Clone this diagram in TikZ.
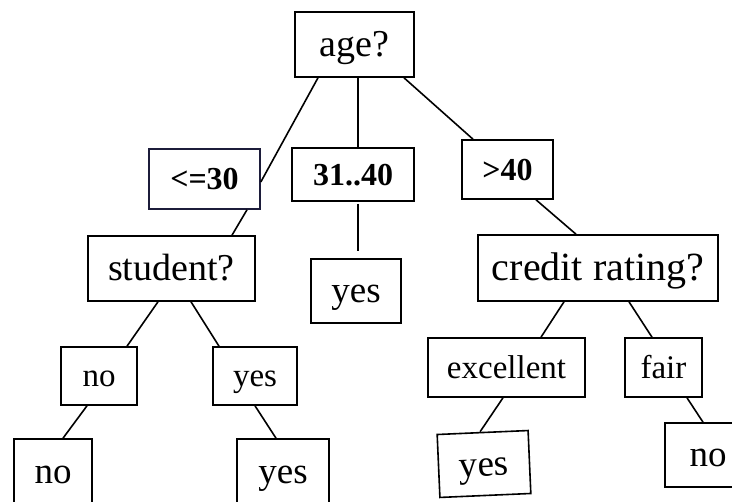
\documentclass[tikz,border=0pt]{standalone}
\usepackage{fontspec}
\setmainfont{Liberation Serif}
\usepackage{tikz}
\definecolor{boxnavy}{RGB}{28,28,58}

\begin{document}
\begin{tikzpicture}
  [x=1pt,y=-1pt,line width=1.6pt,
  box/.style={draw,rectangle,inner sep=0pt},
  big/.style={box,font=\fontsize{38}{40}\selectfont,text height=30pt,text depth=5pt},
  leaf/.style={box,font=\fontsize{37}{39}\selectfont,text height=29pt,text depth=5pt},
  small/.style={box,font=\fontsize{33}{35}\selectfont,text height=26pt,text depth=4pt},
  agerange/.style={box,font=\fontsize{32}{34}\selectfont\bfseries,text height=26pt,text depth=4pt}]
  \useasboundingbox (0,0) rectangle (732,502);
  \clip (0,0) rectangle (732,502);
  % root and the age ranges
  \node[big,minimum width=119pt,minimum height=65pt] (age) at (354.5,44.5) {age?};
  \node[agerange,draw=boxnavy,minimum width=111pt,minimum height=60pt] (le30) at (204.5,179) {<=30};
  \node[agerange,minimum width=122pt,minimum height=53pt] (mid) at (353,174.5) {31..40};
  \node[agerange,minimum width=91pt,minimum height=59pt] (gt40) at (507.5,169.5) {>40};
  % second level
  \node[big,minimum width=167pt,minimum height=65pt] (student) at (171.5,268.5) {student?};
  \node[leaf,minimum width=90pt,minimum height=64pt] (yesmid) at (356,291) {yes};
  \node[big,font=\fontsize{40}{42}\selectfont,text height=31pt,minimum width=240pt,minimum height=66pt] (credit) at (598,268) {credit rating?};
  \node[small,minimum width=76pt,minimum height=58pt] (stno) at (99,376) {no};
  \node[small,minimum width=84pt,minimum height=58pt] (styes) at (255,376) {yes};
  \node[small,minimum width=157pt,minimum height=59pt] (exc) at (506.5,367.5) {excellent};
  \node[small,minimum width=77pt,minimum height=59pt] (fair) at (663.5,367.5) {fair};
  % leaves
  \node[leaf,minimum width=78pt,minimum height=66pt] (noleaf) at (53,472) {no};
  \node[leaf,minimum width=92pt,minimum height=66pt] (yesleaf) at (283,472) {yes};
  \node[leaf,rotate=2.5,minimum width=91pt,minimum height=63pt] (yesrot) at (484,464) {yes};
  \node[leaf,minimum width=86pt,minimum height=64pt] (norleaf) at (708,455) {no};

  \draw ([xshift=-36.5pt]age.south) -- ([yshift=-3pt]le30.east);
  \draw ([xshift=3.5pt]age.south) -- ([xshift=5pt]mid.north);
  \draw ([xshift=49.5pt]age.south) -- ([xshift=-34.5pt]gt40.north);
  \draw ([xshift=42.5pt]le30.south) -- ([xshift=60.5pt]student.north);
  \draw[shorten <=2pt,shorten >=7pt] ([xshift=5pt]mid.south) -- ([xshift=2pt]yesmid.north);
  \draw ([xshift=28.5pt]gt40.south) -- ([xshift=-22pt]credit.north);
  \draw ([xshift=-13.5pt]student.south) -- ([xshift=28pt]stno.north);
  \draw ([xshift=19.5pt]student.south) -- ([xshift=-36pt]styes.north);
  \draw ([xshift=-12pt]stno.south) -- ([xshift=10pt]noleaf.north);
  \draw (styes.south) -- ([xshift=-7pt]yesleaf.north);
  \draw ([xshift=-34pt]credit.south) -- ([xshift=34.5pt]exc.north);
  \draw ([xshift=31pt]credit.south) -- ([xshift=-11.5pt]fair.north);
  \draw ([xshift=-3.5pt]exc.south) -- ([xshift=-2.5pt]yesrot.north);
  \draw ([xshift=23.5pt]fair.south) -- ([xshift=-5pt]norleaf.north);
\end{tikzpicture}
\end{document}
